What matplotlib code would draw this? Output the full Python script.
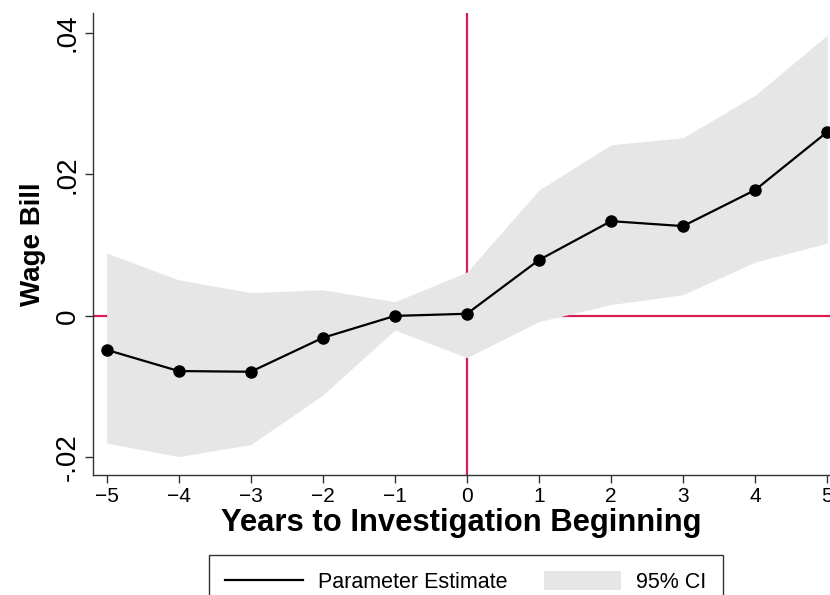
import numpy as np
import matplotlib
matplotlib.use("Agg")
import matplotlib.pyplot as plt
from matplotlib.lines import Line2D
from matplotlib.patches import Patch

plt.rcParams['font.family'] = ['Liberation Sans', 'DejaVu Sans']

# years relative to start of investigation
years = [-5, -4, -3, -2, -1, 0, 1, 2, 3, 4, 5]
estimate = [-0.0048, -0.0078, -0.0079, -0.0031, 0.0000, 0.0003,
            0.0079, 0.0134, 0.0127, 0.0178, 0.0260]
ci_upper = [0.0089, 0.0051, 0.0033, 0.0037, 0.0020, 0.0062,
            0.0178, 0.0242, 0.0252, 0.0312, 0.0397]
ci_lower = [-0.0180, -0.0199, -0.0182, -0.0112, -0.0020, -0.0059,
            -0.0008, 0.0016, 0.0030, 0.0076, 0.0103]

yticks = [-0.02, 0, 0.02, 0.04]
ytick_labels = ["-.02", "0", ".02", ".04"]

red = '#d61e52'
band = '#e6e6e6'

fig = plt.figure(figsize=(8.3, 5.95), dpi=100)
ax = fig.add_axes([0.112, 0.2017, 0.888, 0.776])

# reference lines sit under the CI band
ax.axvline(0, color=red, lw=1.6, zorder=1)
ax.axhline(0, color=red, lw=1.6, zorder=1)
ax.fill_between(years, ci_lower, ci_upper, color=band, lw=0, zorder=2)
ax.plot(years, estimate, color='black', lw=1.6, marker='o', ms=8, zorder=3)

ax.set_xlim(-5.19, 5.04)
ax.set_ylim(-0.0225, 0.0428)
ax.set_xticks(years)
ax.set_yticks(yticks)
ax.set_yticklabels(ytick_labels, rotation=90, va='center')

for s in ['top', 'right']:
    ax.spines[s].set_visible(False)
for s in ['left', 'bottom']:
    ax.spines[s].set_color('#333333')
    ax.spines[s].set_linewidth(1.0)
ax.tick_params(axis='both', direction='out', length=6, width=1,
               color='#333333', pad=3)
ax.tick_params(axis='x', labelsize=15)
ax.tick_params(axis='y', labelsize=20)

ax.set_xlabel("Years to Investigation Beginning", fontsize=22.3,
              fontweight='bold', labelpad=1)
ax.set_ylabel("Wage Bill", fontsize=20, fontweight='bold', labelpad=6)

# legend box runs off the bottom edge, like the original
handles = [Line2D([0], [0], color='black', lw=1.6),
           Patch(facecolor=band, edgecolor='none')]
leg = fig.legend(handles, ["Parameter Estimate", "95% CI"], ncol=2,
                 loc='upper left', bbox_to_anchor=(209 / 830, 1 - 555 / 595),
                 borderaxespad=0, fontsize=15.5, frameon=True, fancybox=False,
                 handlelength=3.6, handleheight=1.0, columnspacing=1.7,
                 handletextpad=0.7, borderpad=0.75)
leg.get_frame().set_edgecolor('black')
leg.get_frame().set_linewidth(1.0)

fig.savefig("out.png", dpi=100)
